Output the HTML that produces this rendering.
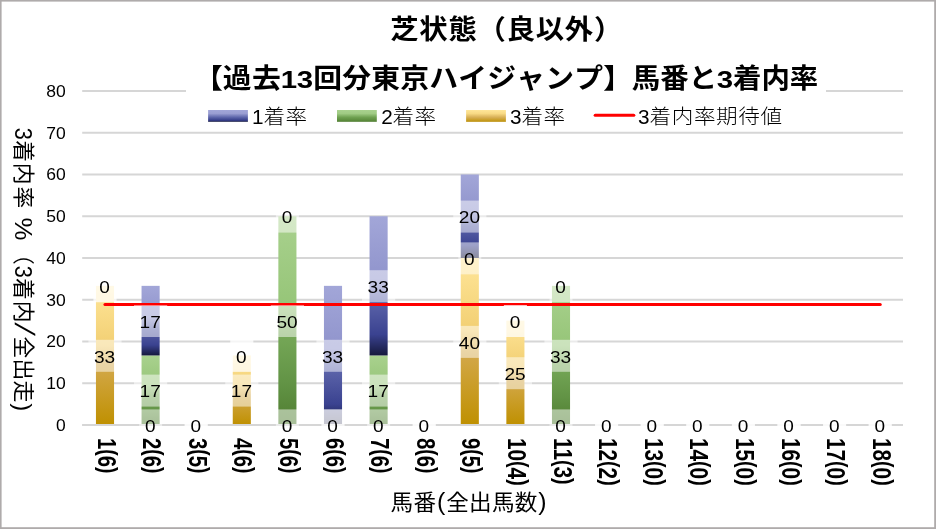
<!DOCTYPE html>
<html lang="ja"><head><meta charset="utf-8"><title>芝状態（良以外） 馬番と3着内率</title>
<style>html,body{margin:0;padding:0;background:#fff}svg{display:block;will-change:transform}text{font-family:"Liberation Sans","Noto Sans CJK JP",sans-serif;fill:#000}</style>
</head><body>
<svg width="936" height="529" viewBox="0 0 936 529">
<defs>
<linearGradient id="gB" x1="0" y1="0" x2="0" y2="1"><stop offset="0" stop-color="#a2a6d8"/><stop offset="0.45" stop-color="#9094cc"/><stop offset="0.62" stop-color="#5a62a8"/><stop offset="0.85" stop-color="#3a4290"/><stop offset="1" stop-color="#15183c"/></linearGradient>
<linearGradient id="gG" x1="0" y1="0" x2="0" y2="1"><stop offset="0" stop-color="#a9d18e"/><stop offset="0.43" stop-color="#96c578"/><stop offset="0.57" stop-color="#75a757"/><stop offset="0.8" stop-color="#629345"/><stop offset="1" stop-color="#4f7d30"/></linearGradient>
<linearGradient id="gY" x1="0" y1="0" x2="0" y2="1"><stop offset="0" stop-color="#ffe699"/><stop offset="0.43" stop-color="#f2cf73"/><stop offset="0.57" stop-color="#d3a84a"/><stop offset="1" stop-color="#bf9000"/></linearGradient>
<linearGradient id="gBL" x1="0" y1="0" x2="0" y2="1"><stop offset="0" stop-color="#a2a6d8"/><stop offset="0.3" stop-color="#9a9ed2"/><stop offset="0.62" stop-color="#5d65aa"/><stop offset="0.88" stop-color="#353d88"/><stop offset="1" stop-color="#15183c"/></linearGradient>
<linearGradient id="gGL" x1="0" y1="0" x2="0" y2="1"><stop offset="0" stop-color="#a9d18e"/><stop offset="0.3" stop-color="#a0cb84"/><stop offset="0.62" stop-color="#6fa151"/><stop offset="0.9" stop-color="#5a8a3b"/><stop offset="1" stop-color="#4c7a2e"/></linearGradient>
<linearGradient id="gYL" x1="0" y1="0" x2="0" y2="1"><stop offset="0" stop-color="#ffe699"/><stop offset="0.3" stop-color="#f8da85"/><stop offset="0.62" stop-color="#d8b057"/><stop offset="0.9" stop-color="#c59a1c"/><stop offset="1" stop-color="#b88a00"/></linearGradient>
</defs>
<rect x="0" y="0" width="936" height="529" fill="#ffffff"/>
<line x1="82.2" y1="425.05" x2="903.0" y2="425.05" stroke="#d6d6d6" stroke-width="1.9"/>
<line x1="82.2" y1="383.29" x2="903.0" y2="383.29" stroke="#d6d6d6" stroke-width="1.9"/>
<line x1="82.2" y1="341.53" x2="903.0" y2="341.53" stroke="#d6d6d6" stroke-width="1.9"/>
<line x1="82.2" y1="299.77" x2="903.0" y2="299.77" stroke="#d6d6d6" stroke-width="1.9"/>
<line x1="82.2" y1="258.01" x2="903.0" y2="258.01" stroke="#d6d6d6" stroke-width="1.9"/>
<line x1="82.2" y1="216.25" x2="903.0" y2="216.25" stroke="#d6d6d6" stroke-width="1.9"/>
<line x1="82.2" y1="174.49" x2="903.0" y2="174.49" stroke="#d6d6d6" stroke-width="1.9"/>
<line x1="82.2" y1="132.73" x2="903.0" y2="132.73" stroke="#d6d6d6" stroke-width="1.9"/>
<line x1="82.2" y1="90.97" x2="903.0" y2="90.97" stroke="#d6d6d6" stroke-width="1.9"/>
<rect x="186" y="60" width="640" height="40" fill="#ffffff"/>
<rect x="95.95" y="285.85" width="18.1" height="139.2" fill="url(#gY)"/>
<rect x="141.55" y="355.45" width="18.1" height="69.6" fill="url(#gG)"/>
<rect x="141.55" y="285.85" width="18.1" height="69.6" fill="url(#gB)"/>
<rect x="232.75" y="355.45" width="18.1" height="69.6" fill="url(#gY)"/>
<rect x="278.35" y="216.25" width="18.1" height="208.8" fill="url(#gG)"/>
<rect x="323.95" y="285.85" width="18.1" height="139.2" fill="url(#gB)"/>
<rect x="369.55" y="355.45" width="18.1" height="69.6" fill="url(#gG)"/>
<rect x="369.55" y="216.25" width="18.1" height="139.2" fill="url(#gB)"/>
<rect x="460.75" y="258.01" width="18.1" height="167.04" fill="url(#gY)"/>
<rect x="460.75" y="174.49" width="18.1" height="83.52" fill="url(#gB)"/>
<rect x="506.35" y="320.65" width="18.1" height="104.4" fill="url(#gY)"/>
<rect x="551.95" y="285.85" width="18.1" height="139.2" fill="url(#gG)"/>
<line x1="82.2" y1="425.05" x2="903.0" y2="425.05" stroke="#d6d6d6" stroke-width="1.9"/>
<line x1="105" y1="304.5" x2="880.2" y2="304.5" stroke="#ff0000" stroke-width="3.1" stroke-linecap="round"/>
<rect x="88.4" y="339.8" width="33.2" height="32" fill="#ffffff" fill-opacity="0.5"/>
<rect x="93.5" y="270.2" width="23.0" height="32" fill="#ffffff" fill-opacity="0.5"/>
<rect x="93.5" y="270.2" width="23.0" height="32" fill="#ffffff" fill-opacity="0.5"/>
<rect x="139.1" y="409.4" width="23.0" height="32" fill="#ffffff" fill-opacity="0.5"/>
<rect x="134" y="374.6" width="33.2" height="32" fill="#ffffff" fill-opacity="0.5"/>
<rect x="134" y="305" width="33.2" height="32" fill="#ffffff" fill-opacity="0.5"/>
<rect x="184.7" y="409.4" width="23.0" height="32" fill="#ffffff" fill-opacity="0.5"/>
<rect x="184.7" y="409.4" width="23.0" height="32" fill="#ffffff" fill-opacity="0.5"/>
<rect x="184.7" y="409.4" width="23.0" height="32" fill="#ffffff" fill-opacity="0.5"/>
<rect x="225.2" y="374.6" width="33.2" height="32" fill="#ffffff" fill-opacity="0.5"/>
<rect x="230.3" y="339.8" width="23.0" height="32" fill="#ffffff" fill-opacity="0.5"/>
<rect x="230.3" y="339.8" width="23.0" height="32" fill="#ffffff" fill-opacity="0.5"/>
<rect x="275.9" y="409.4" width="23.0" height="32" fill="#ffffff" fill-opacity="0.5"/>
<rect x="270.8" y="305" width="33.2" height="32" fill="#ffffff" fill-opacity="0.5"/>
<rect x="275.9" y="200.6" width="23.0" height="32" fill="#ffffff" fill-opacity="0.5"/>
<rect x="321.5" y="409.4" width="23.0" height="32" fill="#ffffff" fill-opacity="0.5"/>
<rect x="321.5" y="409.4" width="23.0" height="32" fill="#ffffff" fill-opacity="0.5"/>
<rect x="316.4" y="339.8" width="33.2" height="32" fill="#ffffff" fill-opacity="0.5"/>
<rect x="367.1" y="409.4" width="23.0" height="32" fill="#ffffff" fill-opacity="0.5"/>
<rect x="362" y="374.6" width="33.2" height="32" fill="#ffffff" fill-opacity="0.5"/>
<rect x="362" y="270.2" width="33.2" height="32" fill="#ffffff" fill-opacity="0.5"/>
<rect x="412.7" y="409.4" width="23.0" height="32" fill="#ffffff" fill-opacity="0.5"/>
<rect x="412.7" y="409.4" width="23.0" height="32" fill="#ffffff" fill-opacity="0.5"/>
<rect x="412.7" y="409.4" width="23.0" height="32" fill="#ffffff" fill-opacity="0.5"/>
<rect x="453.2" y="325.88" width="33.2" height="32" fill="#ffffff" fill-opacity="0.5"/>
<rect x="458.3" y="242.36" width="23.0" height="32" fill="#ffffff" fill-opacity="0.5"/>
<rect x="453.2" y="200.6" width="33.2" height="32" fill="#ffffff" fill-opacity="0.5"/>
<rect x="498.8" y="357.2" width="33.2" height="32" fill="#ffffff" fill-opacity="0.5"/>
<rect x="503.9" y="305" width="23.0" height="32" fill="#ffffff" fill-opacity="0.5"/>
<rect x="503.9" y="305" width="23.0" height="32" fill="#ffffff" fill-opacity="0.5"/>
<rect x="549.5" y="409.4" width="23.0" height="32" fill="#ffffff" fill-opacity="0.5"/>
<rect x="544.4" y="339.8" width="33.2" height="32" fill="#ffffff" fill-opacity="0.5"/>
<rect x="549.5" y="270.2" width="23.0" height="32" fill="#ffffff" fill-opacity="0.5"/>
<rect x="595.1" y="409.4" width="23.0" height="32" fill="#ffffff" fill-opacity="0.5"/>
<rect x="595.1" y="409.4" width="23.0" height="32" fill="#ffffff" fill-opacity="0.5"/>
<rect x="595.1" y="409.4" width="23.0" height="32" fill="#ffffff" fill-opacity="0.5"/>
<rect x="640.7" y="409.4" width="23.0" height="32" fill="#ffffff" fill-opacity="0.5"/>
<rect x="640.7" y="409.4" width="23.0" height="32" fill="#ffffff" fill-opacity="0.5"/>
<rect x="640.7" y="409.4" width="23.0" height="32" fill="#ffffff" fill-opacity="0.5"/>
<rect x="686.3" y="409.4" width="23.0" height="32" fill="#ffffff" fill-opacity="0.5"/>
<rect x="686.3" y="409.4" width="23.0" height="32" fill="#ffffff" fill-opacity="0.5"/>
<rect x="686.3" y="409.4" width="23.0" height="32" fill="#ffffff" fill-opacity="0.5"/>
<rect x="731.9" y="409.4" width="23.0" height="32" fill="#ffffff" fill-opacity="0.5"/>
<rect x="731.9" y="409.4" width="23.0" height="32" fill="#ffffff" fill-opacity="0.5"/>
<rect x="731.9" y="409.4" width="23.0" height="32" fill="#ffffff" fill-opacity="0.5"/>
<rect x="777.5" y="409.4" width="23.0" height="32" fill="#ffffff" fill-opacity="0.5"/>
<rect x="777.5" y="409.4" width="23.0" height="32" fill="#ffffff" fill-opacity="0.5"/>
<rect x="777.5" y="409.4" width="23.0" height="32" fill="#ffffff" fill-opacity="0.5"/>
<rect x="823.1" y="409.4" width="23.0" height="32" fill="#ffffff" fill-opacity="0.5"/>
<rect x="823.1" y="409.4" width="23.0" height="32" fill="#ffffff" fill-opacity="0.5"/>
<rect x="823.1" y="409.4" width="23.0" height="32" fill="#ffffff" fill-opacity="0.5"/>
<rect x="868.7" y="409.4" width="23.0" height="32" fill="#ffffff" fill-opacity="0.5"/>
<rect x="868.7" y="409.4" width="23.0" height="32" fill="#ffffff" fill-opacity="0.5"/>
<rect x="868.7" y="409.4" width="23.0" height="32" fill="#ffffff" fill-opacity="0.5"/>
<text x="94" y="362.55" font-size="17.3" textLength="21.2" lengthAdjust="spacingAndGlyphs">33</text>
<text x="99.3" y="292.95" font-size="17.3" textLength="10.6" lengthAdjust="spacingAndGlyphs">0</text>
<text x="144.9" y="432.15" font-size="17.3" textLength="10.6" lengthAdjust="spacingAndGlyphs">0</text>
<text x="139.6" y="397.35" font-size="17.3" textLength="21.2" lengthAdjust="spacingAndGlyphs">17</text>
<text x="139.6" y="327.75" font-size="17.3" textLength="21.2" lengthAdjust="spacingAndGlyphs">17</text>
<text x="190.5" y="432.15" font-size="17.3" textLength="10.6" lengthAdjust="spacingAndGlyphs">0</text>
<text x="230.8" y="397.35" font-size="17.3" textLength="21.2" lengthAdjust="spacingAndGlyphs">17</text>
<text x="236.1" y="362.55" font-size="17.3" textLength="10.6" lengthAdjust="spacingAndGlyphs">0</text>
<text x="281.7" y="432.15" font-size="17.3" textLength="10.6" lengthAdjust="spacingAndGlyphs">0</text>
<text x="276.4" y="327.75" font-size="17.3" textLength="21.2" lengthAdjust="spacingAndGlyphs">50</text>
<text x="281.7" y="223.35" font-size="17.3" textLength="10.6" lengthAdjust="spacingAndGlyphs">0</text>
<text x="327.3" y="432.15" font-size="17.3" textLength="10.6" lengthAdjust="spacingAndGlyphs">0</text>
<text x="322" y="362.55" font-size="17.3" textLength="21.2" lengthAdjust="spacingAndGlyphs">33</text>
<text x="372.9" y="432.15" font-size="17.3" textLength="10.6" lengthAdjust="spacingAndGlyphs">0</text>
<text x="367.6" y="397.35" font-size="17.3" textLength="21.2" lengthAdjust="spacingAndGlyphs">17</text>
<text x="367.6" y="292.95" font-size="17.3" textLength="21.2" lengthAdjust="spacingAndGlyphs">33</text>
<text x="418.5" y="432.15" font-size="17.3" textLength="10.6" lengthAdjust="spacingAndGlyphs">0</text>
<text x="458.8" y="348.63" font-size="17.3" textLength="21.2" lengthAdjust="spacingAndGlyphs">40</text>
<text x="464.1" y="265.11" font-size="17.3" textLength="10.6" lengthAdjust="spacingAndGlyphs">0</text>
<text x="458.8" y="223.35" font-size="17.3" textLength="21.2" lengthAdjust="spacingAndGlyphs">20</text>
<text x="504.4" y="379.95" font-size="17.3" textLength="21.2" lengthAdjust="spacingAndGlyphs">25</text>
<text x="509.7" y="327.75" font-size="17.3" textLength="10.6" lengthAdjust="spacingAndGlyphs">0</text>
<text x="555.3" y="432.15" font-size="17.3" textLength="10.6" lengthAdjust="spacingAndGlyphs">0</text>
<text x="550" y="362.55" font-size="17.3" textLength="21.2" lengthAdjust="spacingAndGlyphs">33</text>
<text x="555.3" y="292.95" font-size="17.3" textLength="10.6" lengthAdjust="spacingAndGlyphs">0</text>
<text x="600.9" y="432.15" font-size="17.3" textLength="10.6" lengthAdjust="spacingAndGlyphs">0</text>
<text x="646.5" y="432.15" font-size="17.3" textLength="10.6" lengthAdjust="spacingAndGlyphs">0</text>
<text x="692.1" y="432.15" font-size="17.3" textLength="10.6" lengthAdjust="spacingAndGlyphs">0</text>
<text x="737.7" y="432.15" font-size="17.3" textLength="10.6" lengthAdjust="spacingAndGlyphs">0</text>
<text x="783.3" y="432.15" font-size="17.3" textLength="10.6" lengthAdjust="spacingAndGlyphs">0</text>
<text x="828.9" y="432.15" font-size="17.3" textLength="10.6" lengthAdjust="spacingAndGlyphs">0</text>
<text x="874.5" y="432.15" font-size="17.3" textLength="10.6" lengthAdjust="spacingAndGlyphs">0</text>
<text x="56" y="430.95" font-size="16.2" textLength="9.7" lengthAdjust="spacingAndGlyphs">0</text>
<text x="46.2" y="389.19" font-size="16.2" textLength="19.5" lengthAdjust="spacingAndGlyphs">10</text>
<text x="46.2" y="347.43" font-size="16.2" textLength="19.5" lengthAdjust="spacingAndGlyphs">20</text>
<text x="46.2" y="305.67" font-size="16.2" textLength="19.5" lengthAdjust="spacingAndGlyphs">30</text>
<text x="46.2" y="263.91" font-size="16.2" textLength="19.5" lengthAdjust="spacingAndGlyphs">40</text>
<text x="46.2" y="222.15" font-size="16.2" textLength="19.5" lengthAdjust="spacingAndGlyphs">50</text>
<text x="46.2" y="180.39" font-size="16.2" textLength="19.5" lengthAdjust="spacingAndGlyphs">60</text>
<text x="46.2" y="138.63" font-size="16.2" textLength="19.5" lengthAdjust="spacingAndGlyphs">70</text>
<text x="46.2" y="96.87" font-size="16.2" textLength="19.5" lengthAdjust="spacingAndGlyphs">80</text>
<text x="371.69 399.4 427.12 454.83 482.55 510.26 537.98 565.69" y="39.1" font-size="27" font-weight="700" transform="scale(1.05,1)" >芝状態（良以外）</text>
<text x="182.91 210.27 237.63" y="88.2" font-size="27.2" font-weight="700" transform="scale(1.06,1)" >【過去</text><text x="230.07 243.3" y="88.2" font-size="24.1" font-weight="700" transform="scale(1.22,1)" >13</text><text x="295.42 322.78 350.14 377.49 404.85 432.21 459.57 486.93 514.29 541.65 569" y="88.2" font-size="27.2" font-weight="700" transform="scale(1.06,1)" >回分東京ハイジャンプ】</text>
<text x="604.61 631.83 659.06" y="88.2" font-size="27.2" font-weight="700" transform="scale(1.045,1)" >馬番と</text><text x="587.6" y="88.2" font-size="24.1" font-weight="700" transform="scale(1.22,1)" >3</text><text x="701.4 728.62 755.85" y="88.2" font-size="27.2" font-weight="700" transform="scale(1.045,1)" >着内率</text>
<rect x="208.1" y="110.0" width="39.8" height="11.8" fill="url(#gBL)"/>
<rect x="337.0" y="110.0" width="39.8" height="11.8" fill="url(#gGL)"/>
<rect x="466.1" y="110.0" width="39.8" height="11.8" fill="url(#gYL)"/>
<line x1="595.2" y1="115.3" x2="633.8" y2="115.3" stroke="#ff0000" stroke-width="3.1" stroke-linecap="round"/>
<text x="235.63" y="124.5" font-size="19.4" font-weight="300" transform="scale(1.07,1)" >1</text><text x="246.26 266.82" y="124.5" font-size="20.2" font-weight="300" transform="scale(1.07,1)" >着率</text>
<text x="356.2" y="124.5" font-size="19.4" font-weight="300" transform="scale(1.07,1)" >2</text><text x="366.82 387.38" y="124.5" font-size="20.2" font-weight="300" transform="scale(1.07,1)" >着率</text>
<text x="476.76" y="124.5" font-size="19.4" font-weight="300" transform="scale(1.07,1)" >3</text><text x="487.38 507.94" y="124.5" font-size="20.2" font-weight="300" transform="scale(1.07,1)" >着率</text>
<text x="596.29" y="124.5" font-size="19.4" font-weight="300" transform="scale(1.07,1)" >3</text><text x="607 627.75 648.5 669.25 689.99 710.74" y="124.5" font-size="20.2" font-weight="300" transform="scale(1.07,1)" >着内率期待値</text>
<text x="368.45 390.06" y="509.9" font-size="21.3" font-weight="400" transform="scale(1.06,1)" >馬番</text><text x="412.22" y="509.9" font-size="23.5" font-weight="400" transform="scale(1.06,1)" >(</text><text x="420.91 442.51 464.11 485.72" y="509.9" font-size="21.3" font-weight="400" transform="scale(1.06,1)" >全出馬数</text><text x="507.88" y="509.9" font-size="23.5" font-weight="400" transform="scale(1.06,1)" >)</text>
<text transform="translate(16.2,0) rotate(90)" font-size="21.8" font-weight="400" y="0"><tspan x="127.72" y="1.4" font-size="24.4" textLength="12.08" lengthAdjust="spacingAndGlyphs">3</tspan><tspan x="140.15" y="0">着</tspan><tspan x="162.75" y="0">内</tspan><tspan x="186.55" y="0">率</tspan><tspan x="210"> </tspan><tspan x="217.59" y="1.4" font-size="23" textLength="22.91" lengthAdjust="spacingAndGlyphs">%</tspan><tspan x="243.05" y="0">（</tspan><tspan x="265.67" y="1.4" font-size="24.4" textLength="12.08" lengthAdjust="spacingAndGlyphs">3</tspan><tspan x="278" y="0">着</tspan><tspan x="300.8" y="0">内</tspan><tspan x="336.55" y="0">全</tspan><tspan x="358.55" y="0">出</tspan><tspan x="380.55" y="0">走</tspan><tspan x="403.35" y="1.4" font-size="24" textLength="8" lengthAdjust="spacingAndGlyphs">)</tspan></text>
<text transform="translate(16.2,0) rotate(90) translate(322.6,0) skewX(-16.5)" font-size="28" x="0" y="1.4">/</text>
<text transform="translate(97.6,438.0) rotate(90) scale(0.815,1)" font-size="25" font-weight="700">1<tspan dy="-2.8" font-size="23.6">(</tspan><tspan dy="2.8">6</tspan><tspan dy="-2.8" font-size="23.6">)</tspan></text>
<text transform="translate(143.2,438.0) rotate(90) scale(0.815,1)" font-size="25" font-weight="700">2<tspan dy="-2.8" font-size="23.6">(</tspan><tspan dy="2.8">6</tspan><tspan dy="-2.8" font-size="23.6">)</tspan></text>
<text transform="translate(188.8,438.0) rotate(90) scale(0.815,1)" font-size="25" font-weight="700">3<tspan dy="-2.8" font-size="23.6">(</tspan><tspan dy="2.8">5</tspan><tspan dy="-2.8" font-size="23.6">)</tspan></text>
<text transform="translate(234.4,438.0) rotate(90) scale(0.815,1)" font-size="25" font-weight="700">4<tspan dy="-2.8" font-size="23.6">(</tspan><tspan dy="2.8">6</tspan><tspan dy="-2.8" font-size="23.6">)</tspan></text>
<text transform="translate(280,438.0) rotate(90) scale(0.815,1)" font-size="25" font-weight="700">5<tspan dy="-2.8" font-size="23.6">(</tspan><tspan dy="2.8">6</tspan><tspan dy="-2.8" font-size="23.6">)</tspan></text>
<text transform="translate(325.6,438.0) rotate(90) scale(0.815,1)" font-size="25" font-weight="700">6<tspan dy="-2.8" font-size="23.6">(</tspan><tspan dy="2.8">6</tspan><tspan dy="-2.8" font-size="23.6">)</tspan></text>
<text transform="translate(371.2,438.0) rotate(90) scale(0.815,1)" font-size="25" font-weight="700">7<tspan dy="-2.8" font-size="23.6">(</tspan><tspan dy="2.8">6</tspan><tspan dy="-2.8" font-size="23.6">)</tspan></text>
<text transform="translate(416.8,438.0) rotate(90) scale(0.815,1)" font-size="25" font-weight="700">8<tspan dy="-2.8" font-size="23.6">(</tspan><tspan dy="2.8">6</tspan><tspan dy="-2.8" font-size="23.6">)</tspan></text>
<text transform="translate(462.4,438.0) rotate(90) scale(0.815,1)" font-size="25" font-weight="700">9<tspan dy="-2.8" font-size="23.6">(</tspan><tspan dy="2.8">5</tspan><tspan dy="-2.8" font-size="23.6">)</tspan></text>
<text transform="translate(508,438.0) rotate(90) scale(0.83,1)" font-size="25" font-weight="700">10<tspan dy="-2.8" font-size="23.6">(</tspan><tspan dy="2.8">4</tspan><tspan dy="-2.8" font-size="23.6">)</tspan></text>
<text transform="translate(553.6,438.0) rotate(90) scale(0.83,1)" font-size="25" font-weight="700">11<tspan dy="-2.8" font-size="23.6">(</tspan><tspan dy="2.8">3</tspan><tspan dy="-2.8" font-size="23.6">)</tspan></text>
<text transform="translate(599.2,438.0) rotate(90) scale(0.83,1)" font-size="25" font-weight="700">12<tspan dy="-2.8" font-size="23.6">(</tspan><tspan dy="2.8">2</tspan><tspan dy="-2.8" font-size="23.6">)</tspan></text>
<text transform="translate(644.8,438.0) rotate(90) scale(0.83,1)" font-size="25" font-weight="700">13<tspan dy="-2.8" font-size="23.6">(</tspan><tspan dy="2.8">0</tspan><tspan dy="-2.8" font-size="23.6">)</tspan></text>
<text transform="translate(690.4,438.0) rotate(90) scale(0.83,1)" font-size="25" font-weight="700">14<tspan dy="-2.8" font-size="23.6">(</tspan><tspan dy="2.8">0</tspan><tspan dy="-2.8" font-size="23.6">)</tspan></text>
<text transform="translate(736,438.0) rotate(90) scale(0.83,1)" font-size="25" font-weight="700">15<tspan dy="-2.8" font-size="23.6">(</tspan><tspan dy="2.8">0</tspan><tspan dy="-2.8" font-size="23.6">)</tspan></text>
<text transform="translate(781.6,438.0) rotate(90) scale(0.83,1)" font-size="25" font-weight="700">16<tspan dy="-2.8" font-size="23.6">(</tspan><tspan dy="2.8">0</tspan><tspan dy="-2.8" font-size="23.6">)</tspan></text>
<text transform="translate(827.2,438.0) rotate(90) scale(0.83,1)" font-size="25" font-weight="700">17<tspan dy="-2.8" font-size="23.6">(</tspan><tspan dy="2.8">0</tspan><tspan dy="-2.8" font-size="23.6">)</tspan></text>
<text transform="translate(872.8,438.0) rotate(90) scale(0.83,1)" font-size="25" font-weight="700">18<tspan dy="-2.8" font-size="23.6">(</tspan><tspan dy="2.8">0</tspan><tspan dy="-2.8" font-size="23.6">)</tspan></text>
<rect x="0" y="0" width="936" height="1.6" fill="#afabab"/>
<rect x="0" y="0" width="1.6" height="529" fill="#afabab"/>
<rect x="934.2" y="0" width="1.8" height="529" fill="#afabab"/>
<rect x="0" y="527.2" width="936" height="1.8" fill="#afabab"/>
</svg>
</body></html>
